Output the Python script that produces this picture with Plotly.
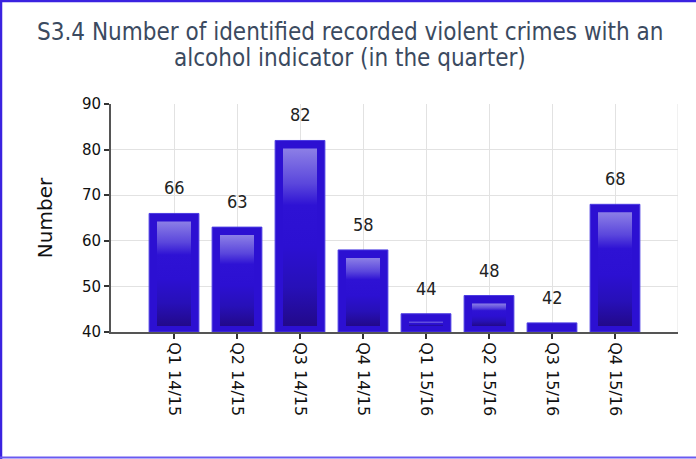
import plotly.graph_objects as go

categories = ["Q1 14/15", "Q2 14/15", "Q3 14/15", "Q4 14/15",
              "Q1 15/16", "Q2 15/16", "Q3 15/16", "Q4 15/16"]
values = [66, 63, 82, 58, 44, 48, 42, 68]
y_ticks = [40, 50, 60, 70, 80, 90]
title_lines = ["S3.4 Number of identified recorded violent crimes with an",
               "alcohol indicator (in the quarter)"]
y_title = "Number"

Y_MIN, Y_MAX = 40, 90
BAR_W = 0.79
INNER_HALF = 0.27
TOP_INSET = 1.75
BOTTOM_INSET = 1.3

L, R, T, B = 111, 18, 104, 127
W, H = 696, 459
PW, PH = W - L - R, H - T - B


def px(xp):
    return (xp - L) / PW


def py(yp):
    return (H - B - yp) / PH


fig = go.Figure()

fig.add_trace(go.Bar(
    x=list(range(len(categories))),
    y=[v - Y_MIN for v in values],
    base=Y_MIN,
    width=BAR_W,
    marker=dict(color="#2c10d2", line=dict(color="#4b3be2", width=1)),
    hoverinfo="skip",
    showlegend=False,
))

for i, v in enumerate(values):
    top = v - TOP_INSET
    bot = Y_MIN + BOTTOM_INSET
    if top - bot > 0.5:
        fig.add_trace(go.Scatter(
            x=[i - INNER_HALF, i + INNER_HALF, i + INNER_HALF, i - INNER_HALF, i - INNER_HALF],
            y=[bot, bot, top, top, bot],
            mode="lines",
            line=dict(width=0),
            fill="toself",
            fillgradient=dict(
                type="vertical",
                colorscale=[[0, "#22098a"], [0.22, "#2710b8"], [0.45, "#2c10d2"],
                            [0.68, "#2e12d4"], [0.8, "#5a46dc"], [1, "#8c7fe6"]],
            ),
            hoverinfo="skip",
            showlegend=False,
        ))

for i, v in enumerate(values):
    fig.add_annotation(
        x=i, y=v, text=str(v), showarrow=False,
        yanchor="bottom", yshift=13,
        font=dict(family="DejaVu Sans Condensed, DejaVu Sans", size=18, color="#222222"),
    )

for k, (line, yc) in enumerate(zip(title_lines, [32, 58])):
    fig.add_annotation(
        text=line, showarrow=False,
        xref="paper", yref="paper", x=px(350), y=py(yc),
        xanchor="center", yanchor="middle", align="center",
        font=dict(family="DejaVu Sans Condensed, DejaVu Sans", size=24, color="#3b4a60"),
    )

fig.update_layout(
    width=W, height=H,
    paper_bgcolor="white", plot_bgcolor="white",
    margin=dict(l=L, r=R, t=T, b=B),
    xaxis=dict(
        range=[-1, 8],
        tickmode="array",
        tickvals=list(range(len(categories))),
        ticktext=categories,
        tickangle=90,
        ticks="outside", ticklen=5, tickwidth=1.5, tickcolor="#333333",
        showgrid=True, gridcolor="#e2e2e2", gridwidth=1,
        showline=True, linecolor="#555555", linewidth=2,
        tickfont=dict(family="DejaVu Sans", size=16, color="#111111"),
        zeroline=False,
    ),
    yaxis=dict(
        range=[Y_MIN, Y_MAX],
        tickmode="array", tickvals=y_ticks,
        ticks="outside", ticklen=5, tickwidth=1.5, tickcolor="#333333",
        showgrid=True, gridcolor="#e2e2e2", gridwidth=1,
        showline=True, linecolor="#555555", linewidth=2,
        tickfont=dict(family="DejaVu Sans", size=15, color="#111111"),
        title=dict(text=y_title, standoff=24,
                   font=dict(family="DejaVu Sans", size=20, color="#111111")),
        zeroline=False,
    ),
    shapes=[
        dict(type="line", xref="x", yref="paper", x0=8, x1=8, y0=0, y1=1,
             line=dict(color="#e2e2e2", width=1), layer="below"),
        dict(type="line", xref="paper", yref="paper",
             x0=px(1), x1=px(1), y0=py(0), y1=py(459),
             line=dict(color="#3a22e0", width=2.5)),
        dict(type="line", xref="paper", yref="paper",
             x0=px(0), x1=px(700), y0=py(1), y1=py(1),
             line=dict(color="#3a22e0", width=2.5)),
        dict(type="line", xref="paper", yref="paper",
             x0=px(0), x1=px(700), y0=py(457.5), y1=py(457.5),
             line=dict(color="#6a5af0", width=2)),
    ],
)

fig.write_html("out.html",
               config={"displayModeBar": False},
               post_script="document.body.style.margin='0';document.body.style.overflow='hidden';")
